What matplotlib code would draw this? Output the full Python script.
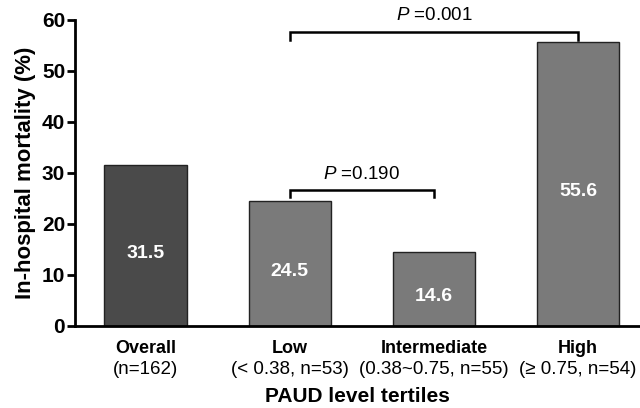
import matplotlib
matplotlib.use("Agg")
import matplotlib.pyplot as plt
from matplotlib.transforms import blended_transform_factory

plt.rcParams['font.family'] = ['Liberation Sans', 'DejaVu Sans']
plt.rcParams['mathtext.fontset'] = 'custom'
plt.rcParams['mathtext.it'] = 'Liberation Sans:italic'
plt.rcParams['mathtext.rm'] = 'Liberation Sans'

categories = ["Overall", "Low", "Intermediate", "High"]
sublabels = ["(n=162)", "(< 0.38, n=53)", "(0.38~0.75, n=55)", "(\u2265 0.75, n=54)"]
values = [31.5, 24.5, 14.6, 55.6]
colors = ["#4a4a4a", "#7a7a7a", "#7a7a7a", "#7a7a7a"]
pvalues = [("Low", "Intermediate", "0.190"), ("Low", "High", "0.001")]
yticks = [0, 10, 20, 30, 40, 50, 60]

fig = plt.figure(figsize=(6.4, 4.08), dpi=100)
ax = fig.add_axes([0.117, 0.201, 0.883, 0.750])

x = list(range(len(categories)))
ax.bar(x, values, width=0.57, color=colors, edgecolor="#222222", linewidth=1.0, zorder=2)

for xi, v in zip(x, values):
    ax.text(xi, v / 2 - 1.5, f"{v:.1f}", ha="center", va="center", color="white",
            fontsize=14, fontweight="bold")

# significance brackets
bracket_specs = {"0.190": (26.7, 1.4, 29.8), "0.001": (57.6, 1.5, 60.9)}
for a, b, p in pvalues:
    xa, xb = categories.index(a), categories.index(b)
    yb, tick, yt = bracket_specs[p]
    ax.plot([xa, xa, xb, xb], [yb - tick, yb, yb, yb - tick], color="black",
            linewidth=1.8, clip_on=False, solid_joinstyle="miter")
    ax.text((xa + xb) / 2, yt, f"$P$ =" + p, ha="center", va="center",
            fontsize=13.5, clip_on=False)

ax.set_xlim(-0.49, 3.43)
ax.set_ylim(0, 60)
ax.set_yticks(yticks)
ax.set_yticklabels([str(t) for t in yticks], fontsize=15, fontweight="bold")
ax.set_xticks(x)
ax.set_xticklabels(categories, fontsize=13, fontweight="bold")
ax.tick_params(axis="x", length=0, pad=10)
ax.tick_params(axis="y", direction="out", length=6, width=2, pad=1)

trans = blended_transform_factory(ax.transData, ax.transAxes)
for xi, s in zip(x, sublabels):
    ax.text(xi, -0.141, s, transform=trans, ha="center", va="center", fontsize=13.5)

ax.spines["top"].set_visible(False)
ax.spines["right"].set_visible(False)
ax.spines["left"].set_linewidth(2)
ax.spines["bottom"].set_linewidth(2)

ax.set_ylabel("In-hospital mortality (%)", fontsize=16, fontweight="bold", labelpad=4)
ax.set_xlabel("PAUD level tertiles", fontsize=15, fontweight="bold", labelpad=22)

fig.savefig("out.png", dpi=100)
